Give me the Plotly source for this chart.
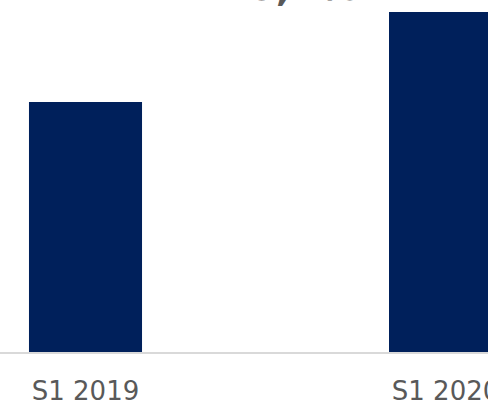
import plotly.graph_objects as go

categories = ["S1 2019", "S1 2020"]
values = [250, 340]
growth_label = "10,1%"

fig = go.Figure()
fig.add_trace(go.Bar(
    x=categories, y=values,
    marker=dict(color="#00205B", line=dict(width=0)),
    width=0.314,
))

fig.add_annotation(
    x=0.568, xref="x", y=1.0, yref="paper", yanchor="bottom", yshift=-11,
    text="<b>" + growth_label + "</b>", showarrow=False,
    font=dict(family="DejaVu Sans", size=40, color="#595959"),
)

fig.update_layout(
    width=488, height=408,
    margin=dict(l=0, r=0, t=0, b=56, autoexpand=False),
    paper_bgcolor="white", plot_bgcolor="white",
    showlegend=False,
    xaxis=dict(
        type="category",
        range=[-0.2375, 1.118],
        automargin=False,
        showline=True, linecolor="#D9D9D9", linewidth=2,
        showgrid=False, zeroline=False,
        ticks="", ticklabelstandoff=15,
        tickfont=dict(family="DejaVu Sans", size=26, color="#595959"),
    ),
    yaxis=dict(range=[0, 352], visible=False, showgrid=False, zeroline=False),
)

fig.write_html(
    "out.html",
    config={"displayModeBar": False},
    post_script="document.body.style.margin='0';document.body.style.overflow='hidden';",
)
